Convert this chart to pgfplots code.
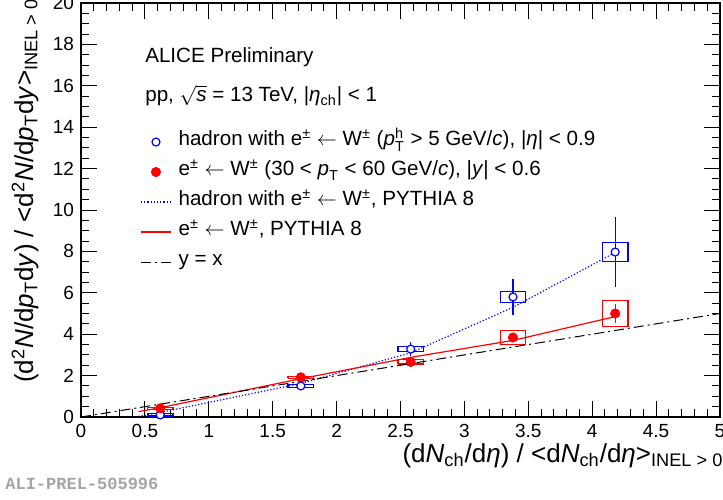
\documentclass[border=0pt]{standalone}
\usepackage{amsmath}
\usepackage{fontspec}
\setmainfont{Liberation Sans}
\setmonofont{Liberation Mono}
\usepackage{pgfplots}
\usepackage{pgfplotstable}
\pgfplotsset{compat=1.18}

\definecolor{rootblue}{RGB}{0,0,255}
\definecolor{rootred}{RGB}{255,0,0}
\definecolor{prelgray}{RGB}{165,165,165}

% hadron with e <- W : x, y, stat error
\pgfplotstableread{
x     y     ey
0.62  0.10  0.05
1.72  1.50  0.08
2.58  3.28  0.34
3.38  5.80  0.88
4.18  7.97  1.68
}\hadron
% e <- W : x, y, stat error
\pgfplotstableread{
x     y     ey
0.62  0.42  0.10
1.72  1.92  0.10
2.58  2.66  0.08
3.38  3.84  0.15
4.18  5.00  0.45
}\electron

\pgfplotsset{markentry/.style={legend image code/.code={%
  \draw[mark repeat=2, mark phase=2, ##1] plot coordinates {(0pt,0pt) (7.5pt,0pt) (15pt,0pt)};}}}

\begin{document}
\begin{tikzpicture}
\clip (-40.5pt,-41pt) rectangle (321pt,208.5pt);
\begin{axis}[
  anchor=south west, at={(0pt,0pt)},
  scale only axis, width=319.5pt, height=207pt,
  xmin=0, xmax=5, ymin=0, ymax=20,
  xtick distance=0.5, ytick distance=2,
  minor x tick num=4, minor y tick num=3,
  tick align=inside, major tick length=8pt, minor tick length=4pt,
  axis line style={line width=0.75pt},
  every tick/.style={black, line width=0.5pt},
  /pgf/number format/assume math mode=true,
  tick label style={font=\fontsize{9.5}{11}\selectfont},
  label style={font=\fontsize{13}{15}\selectfont},
  xlabel={(d\textit{N}\textsubscript{ch}/d\textit{η}) / <d\textit{N}\textsubscript{ch}/d\textit{η}>\textsubscript{INEL > 0}},
  ylabel={(d\textsuperscript{2}\textit{N}/d\textit{p}\textsubscript{T}d\textit{y}) / <d\textsuperscript{2}\textit{N}/d\textit{p}\textsubscript{T}d\textit{y}>\textsubscript{INEL > 0}},
  xlabel style={at={(axis description cs:1.006,-0.1087)}, anchor=base east, inner sep=0pt},
  ylabel style={at={(axis description cs:-0.0751,1.012)}, anchor=base east, inner sep=0pt},
  legend style={at={(axis description cs:0.0923,0.7014)}, anchor=north west,
    draw=none, fill=none, inner sep=0pt, row sep=0pt, column sep=3.5pt,
    font=\fontsize{10.3}{12}\selectfont,
    nodes={inner sep=0pt, text height=9.2pt, text depth=5.8pt}},
  legend cell align=left,
  legend image code/.code={\draw[#1] (0pt,0pt) -- (15pt,0pt);},
  empty line=jump,
]
% systematic boxes
\addplot[rootblue, line width=0.6pt, forget plot] table {
0.52 0.05
0.72 0.05
0.72 0.15
0.52 0.15
0.52 0.05

1.62 1.42
1.82 1.42
1.82 1.58
1.62 1.58
1.62 1.42

2.48 3.15
2.68 3.15
2.68 3.41
2.48 3.41
2.48 3.15

3.28 5.54
3.48 5.54
3.48 6.06
3.28 6.06
3.28 5.54

4.08 7.50
4.28 7.50
4.28 8.44
4.08 8.44
4.08 7.50
};
\addplot[rootred, line width=0.6pt, forget plot] table {
0.52 0.37
0.72 0.37
0.72 0.47
0.52 0.47
0.52 0.37

1.62 1.87
1.82 1.87
1.82 1.97
1.62 1.97
1.62 1.87

2.48 2.56
2.68 2.56
2.68 2.76
2.48 2.76
2.48 2.56

3.28 3.52
3.48 3.52
3.48 4.16
3.28 4.16
3.28 3.52

4.08 4.38
4.28 4.38
4.28 5.62
4.08 5.62
4.08 4.38
};
% data with statistical errors
\addplot[rootblue, only marks, mark=*, mark size=2pt, mark options={fill=white, line width=0.6pt},
  markentry,
  error bars/.cd, y dir=both, y explicit, error mark=none,
  error bar style={rootblue, line width=0.6pt}]
  table[x=x, y=y, y error=ey] {\hadron};
\addlegendentry{hadron with e\textsuperscript{±} $\leftarrow$ W\textsuperscript{±} ($\textit{p}^{\text{h}}_{\text{T}}$ > 5 GeV/\textit{c}), |\textit{η}| < 0.9}
\addplot[rootred, only marks, mark=*, mark size=2.3pt,
  markentry,
  error bars/.cd, y dir=both, y explicit, error mark=none,
  error bar style={rootred, line width=0.6pt}]
  table[x=x, y=y, y error=ey] {\electron};
\addlegendentry{e\textsuperscript{±} $\leftarrow$ W\textsuperscript{±} (30 < $\textit{p}_{\text{T}}$ < 60 GeV/\textit{c}), |\textit{y}| < 0.6}
% PYTHIA 8
\addplot[rootblue, densely dotted, line width=0.6pt] coordinates {
  (0.45,0.03) (0.62,0.22) (1.72,1.62) (2.58,3.10) (3.38,5.30) (4.18,7.95)};
\addlegendentry{hadron with e\textsuperscript{±} $\leftarrow$ W\textsuperscript{±}, PYTHIA 8}
\addplot[rootred, line width=0.6pt] coordinates {
  (0.45,0.26) (0.62,0.45) (1.72,1.85) (2.58,2.88) (3.38,3.70) (4.18,4.85)};
\addlegendentry{e\textsuperscript{±} $\leftarrow$ W\textsuperscript{±}, PYTHIA 8}
\addplot[black, line width=0.5pt, dash pattern=on 5pt off 2pt on 1pt off 2pt] coordinates {
  (0,0) (5,5)};
\addlegendentry{y = x}

\node[anchor=base west, inner sep=0pt, font=\fontsize{10.3}{12}\selectfont]
  at (axis description cs:0.100,0.857) {ALICE Preliminary};
\node[anchor=base west, inner sep=0pt, font=\fontsize{10.3}{12}\selectfont]
  at (axis description cs:0.100,0.761) {pp, $\sqrt{\textit{s}}$ = 13 TeV, |\textit{η}\textsubscript{ch}| < 1};
\end{axis}
\node[anchor=west, inner sep=0pt, text=prelgray, font=\ttfamily\bfseries\fontsize{8.5}{10}\selectfont]
  at (-38pt,-33.5pt) {ALI-PREL-505996};
\end{tikzpicture}
\end{document}
